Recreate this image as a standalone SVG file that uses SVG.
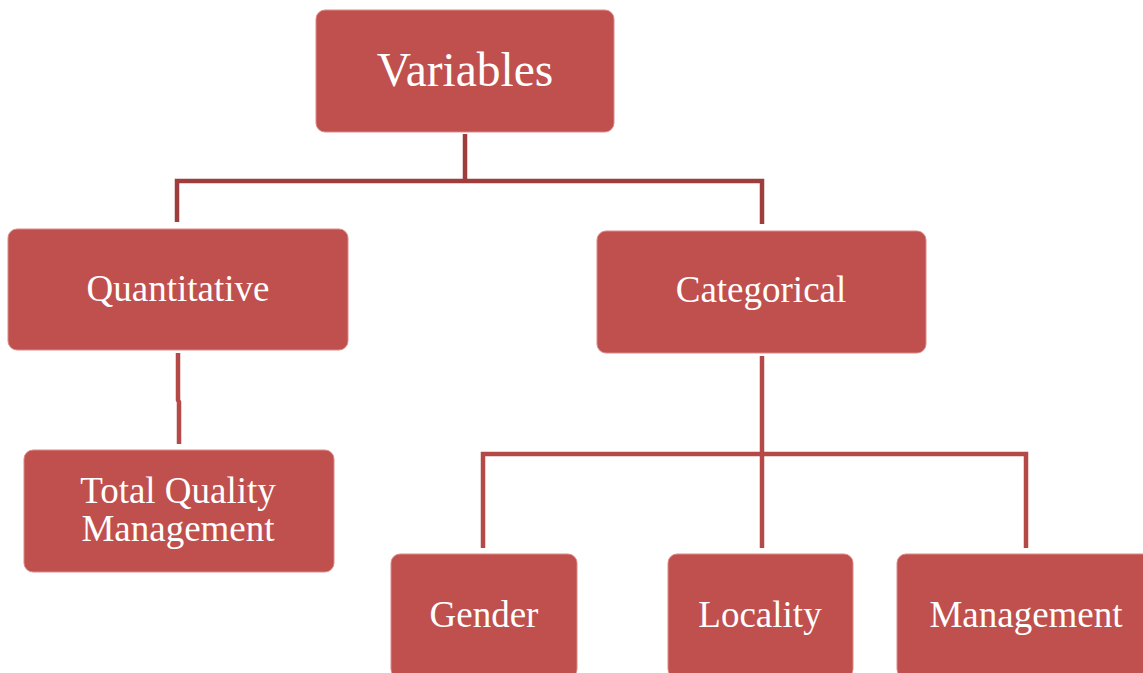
<svg xmlns="http://www.w3.org/2000/svg" width="1143" height="673" viewBox="0 0 1143 673">
<style>
.box{fill:#C0504D;stroke:#D98B89;stroke-width:1}
.t{fill:#FFFFFF;font-family:"Liberation Serif","Times New Roman",serif;text-anchor:middle;font-size:37px}
.c1{fill:none;stroke:#9E3D3B;stroke-width:4.5}
.c2{fill:none;stroke:#B44947;stroke-width:4.5}
</style>
<rect width="1143" height="673" fill="#FFFFFF"/>
<g id="connectors">
<path class="c1" d="M465 134 V181 M177 222 V181 H762 V224"/>
<path class="c2" d="M178 353 V400 L179 402 V444"/>
<path class="c2" d="M762 356 V548 M483 548 V454 H1026 V548"/>
</g>
<g id="variables">
<rect class="box" x="316" y="10" width="298" height="122" rx="9"/>
<text class="t" x="465" y="86" style="font-size:47.5px">Variables</text>
</g>
<g id="quantitative">
<rect class="box" x="8" y="229" width="340" height="121" rx="9"/>
<text class="t" x="178" y="301">Quantitative</text>
</g>
<g id="categorical">
<rect class="box" x="597" y="231" width="329" height="122" rx="9"/>
<text class="t" x="761" y="302">Categorical</text>
</g>
<g id="tqm">
<rect class="box" x="24" y="450" width="310" height="122" rx="9"/>
<text class="t" x="178" y="503">Total Quality</text>
<text class="t" x="178" y="541">Management</text>
</g>
<g id="gender">
<rect class="box" x="391" y="554" width="186" height="124" rx="9"/>
<text class="t" x="484" y="627">Gender</text>
</g>
<g id="locality">
<rect class="box" x="668" y="554" width="185" height="124" rx="9"/>
<text class="t" x="760" y="627">Locality</text>
</g>
<g id="management">
<rect class="box" x="897" y="554" width="258" height="124" rx="9"/>
<text class="t" x="1026" y="627">Management</text>
</g>
</svg>
